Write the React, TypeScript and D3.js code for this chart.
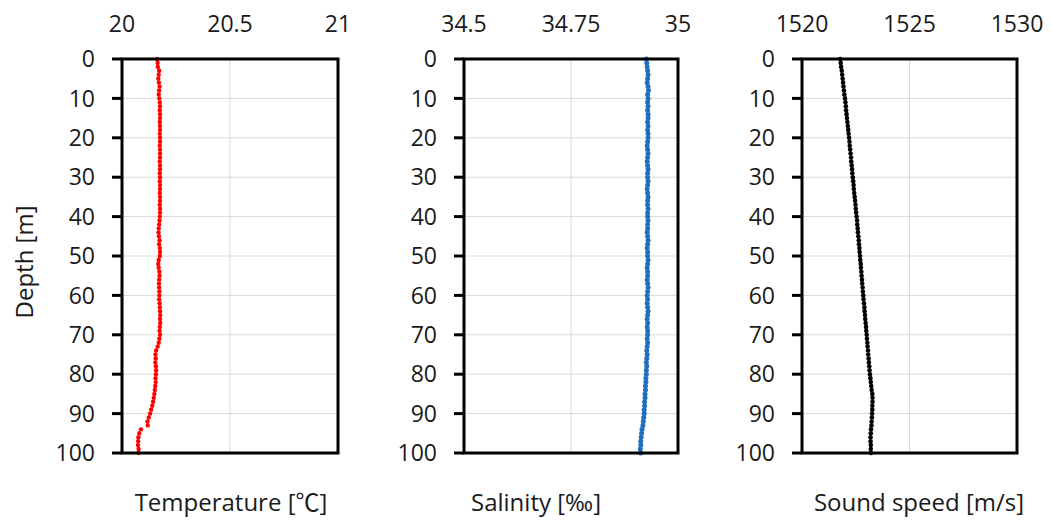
import React from "react";
import * as d3 from "d3";

const depths: number[] = d3.range(0, 101);

const temperature: number[] = [
  20.163, 20.165, 20.166, 20.172, 20.170, 20.168, 20.171, 20.174, 20.172, 20.170,
  20.173, 20.175, 20.176, 20.175, 20.176, 20.176, 20.175, 20.176, 20.176, 20.175,
  20.176, 20.176, 20.175, 20.176, 20.176, 20.176, 20.175, 20.176, 20.176, 20.175,
  20.176, 20.175, 20.176, 20.176, 20.175, 20.176, 20.176, 20.175, 20.176, 20.176,
  20.175, 20.174, 20.172, 20.170, 20.169, 20.171, 20.174, 20.172, 20.175, 20.176,
  20.175, 20.170, 20.168, 20.170, 20.173, 20.174, 20.172, 20.171, 20.172, 20.173,
  20.173, 20.172, 20.174, 20.175, 20.176, 20.177, 20.176, 20.177, 20.175, 20.174,
  20.176, 20.173, 20.170, 20.165, 20.158, 20.155, 20.156, 20.154, 20.157, 20.158,
  20.157, 20.155, 20.156, 20.154, 20.152, 20.150, 20.147, 20.144, 20.140, 20.135,
  20.130, 20.124, 20.118, 20.119, 20.088, 20.080, 20.076, 20.075, 20.074, 20.077,
  20.076,
];

const salinity: number[] = [
  34.926, 34.927, 34.928, 34.929, 34.930, 34.929, 34.928, 34.930, 34.931, 34.929,
  34.930, 34.929, 34.930, 34.929, 34.930, 34.930, 34.929, 34.930, 34.929, 34.930,
  34.930, 34.929, 34.928, 34.929, 34.930, 34.929, 34.928, 34.929, 34.930, 34.929,
  34.929, 34.930, 34.929, 34.928, 34.929, 34.930, 34.929, 34.929, 34.930, 34.929,
  34.929, 34.930, 34.929, 34.929, 34.928, 34.929, 34.930, 34.929, 34.928, 34.929,
  34.929, 34.930, 34.929, 34.928, 34.929, 34.929, 34.928, 34.929, 34.930, 34.929,
  34.928, 34.929, 34.928, 34.929, 34.930, 34.929, 34.928, 34.929, 34.928, 34.929,
  34.929, 34.928, 34.929, 34.928, 34.927, 34.928, 34.927, 34.926, 34.927, 34.926,
  34.926, 34.925, 34.925, 34.924, 34.924, 34.923, 34.923, 34.922, 34.922, 34.921,
  34.921, 34.920, 34.919, 34.918, 34.916, 34.915, 34.914, 34.913, 34.913, 34.912,
  34.913,
];

const soundSpeed: number[] = [
  1521.78, 1521.80, 1521.82, 1521.85, 1521.87, 1521.89, 1521.91, 1521.93, 1521.95, 1521.97,
  1522.00, 1522.02, 1522.04, 1522.05, 1522.07, 1522.09, 1522.11, 1522.13, 1522.15, 1522.17,
  1522.19, 1522.21, 1522.22, 1522.24, 1522.26, 1522.28, 1522.29, 1522.31, 1522.33, 1522.34,
  1522.36, 1522.38, 1522.40, 1522.41, 1522.43, 1522.45, 1522.47, 1522.49, 1522.50, 1522.52,
  1522.54, 1522.56, 1522.57, 1522.59, 1522.60, 1522.62, 1522.64, 1522.65, 1522.67, 1522.68,
  1522.70, 1522.71, 1522.73, 1522.74, 1522.76, 1522.77, 1522.79, 1522.80, 1522.82, 1522.83,
  1522.85, 1522.86, 1522.88, 1522.90, 1522.91, 1522.93, 1522.94, 1522.96, 1522.98, 1522.99,
  1523.01, 1523.02, 1523.04, 1523.05, 1523.07, 1523.08, 1523.10, 1523.11, 1523.13, 1523.14,
  1523.16, 1523.18, 1523.20, 1523.22, 1523.24, 1523.27, 1523.28, 1523.28, 1523.27, 1523.27,
  1523.26, 1523.25, 1523.24, 1523.23, 1523.21, 1523.20, 1523.19, 1523.19, 1523.20, 1523.20,
  1523.21,
];

const depthTicks: number[] = [0, 10, 20, 30, 40, 50, 60, 70, 80, 90, 100];
const tempTicks: number[] = [20, 20.5, 21];
const tempTickLabels: string[] = ["20", "20.5", "21"];
const salTicks: number[] = [34.5, 34.75, 35];
const salTickLabels: string[] = ["34.5", "34.75", "35"];
const sndTicks: number[] = [1520, 1525, 1530];
const sndTickLabels: string[] = ["1520", "1525", "1530"];
const axisTitles: string[] = ["Temperature [", "Salinity [\u2030]", "Sound speed [m/s]"];
const celsius = "\u2103";
const depthTitle = "Depth [m]";

const FONT = "'Open Sans', 'Noto Sans', sans-serif";
const CJK = "'Noto Sans CJK JP', 'Noto Sans CJK SC', sans-serif";
const TOP = 59;
const BOTTOM = 453;
const TICK_FS = 23;
const TITLE_FS = 24;
const INK = "#1a1a1a";

interface Panel {
  left: number;
  right: number;
  domain: [number, number];
  ticks: number[];
  tickLabels: string[];
  values: number[];
  color: string;
  r: number;
  title: string;
  titleX: number;
}

const panels: Panel[] = [
  { left: 122, right: 338, domain: [20, 21], ticks: tempTicks, tickLabels: tempTickLabels, values: temperature, color: "#ff0000", r: 2.2, title: axisTitles[0], titleX: 231 },
  { left: 464, right: 678, domain: [34.5, 35], ticks: salTicks, tickLabels: salTickLabels, values: salinity, color: "#1f6fbf", r: 2.5, title: axisTitles[1], titleX: 536 },
  { left: 802, right: 1017, domain: [1520, 1530], ticks: sndTicks, tickLabels: sndTickLabels, values: soundSpeed, color: "#000000", r: 2.3, title: axisTitles[2], titleX: 919 },
];

const y = d3.scaleLinear().domain([0, 100]).range([TOP, BOTTOM]);

function PanelView({ p, idx }: { p: Panel; idx: number }) {
  const x = d3.scaleLinear().domain(p.domain).range([p.left, p.right]);
  return (
    <g>
      {depthTicks.map((d) => (
        <line key={"gy" + d} x1={p.left} x2={p.right} y1={y(d)} y2={y(d)} stroke="#d9d9d9" strokeWidth={1} />
      ))}
      {p.ticks.map((t) => (
        <line key={"gx" + t} x1={x(t)} x2={x(t)} y1={TOP} y2={BOTTOM} stroke="#d9d9d9" strokeWidth={1} />
      ))}
      {p.values.map((v, i) => (
        <circle key={"c" + i} cx={x(v)} cy={y(depths[i])} r={p.r} fill={p.color} />
      ))}
      <rect x={p.left} y={TOP} width={p.right - p.left} height={BOTTOM - TOP} fill="none" stroke="#000" strokeWidth={3} />
      {depthTicks.map((d) => (
        <line key={"t" + d} x1={p.left - 10} x2={p.left} y1={y(d)} y2={y(d)} stroke="#000" strokeWidth={3} />
      ))}
      {depthTicks.map((d) => (
        <text key={"tl" + d} x={p.left - 27} y={y(d)} dy="0.36em" textAnchor="end" fontSize={TICK_FS} fontFamily={FONT} fill={INK}>
          {d}
        </text>
      ))}
      {p.ticks.map((t, i) => (
        <text key={"xl" + t} x={x(t)} y={32} textAnchor="middle" fontSize={TICK_FS} fontFamily={FONT} fill={INK}>
          {p.tickLabels[i]}
        </text>
      ))}
      <text x={p.titleX} y={511} textAnchor="middle" fontSize={TITLE_FS} fontFamily={FONT} fill={INK}>
        {p.title}
        {idx === 0 ? (
          <>
            <tspan fontFamily={CJK}>{celsius}</tspan>
            <tspan>]</tspan>
          </>
        ) : null}
      </text>
    </g>
  );
}

export default function App() {
  return (
    <svg width={1053} height={522} style={{ position: "absolute", left: 0, top: 0, background: "#fff" }}>
      <rect x={0} y={0} width={1053} height={522} fill="#fff" />
      {panels.map((p, i) => (
        <PanelView key={i} p={p} idx={i} />
      ))}
      <text transform="translate(33,262) rotate(-90)" textAnchor="middle" fontSize={TITLE_FS} fontFamily={FONT} fill={INK}>
        {depthTitle}
      </text>
    </svg>
  );
}
